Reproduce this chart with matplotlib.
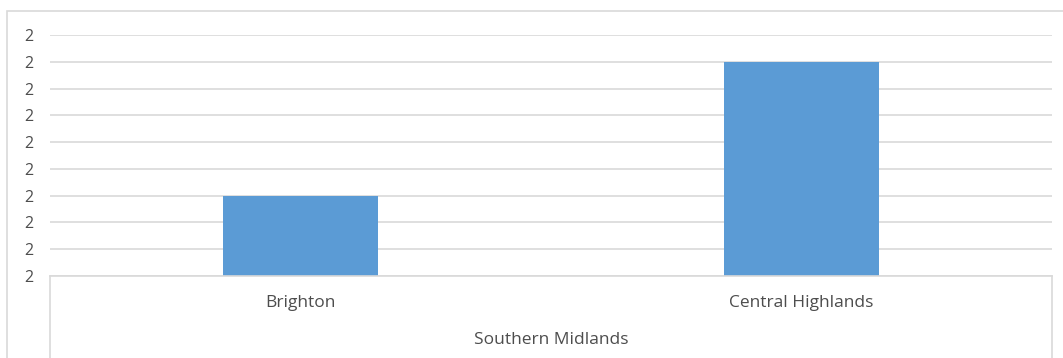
import matplotlib.pyplot as plt
from matplotlib.lines import Line2D
from matplotlib.patches import Rectangle
from matplotlib.ticker import FuncFormatter
import math

categories = ['Brighton', 'Central Highlands']
group_label = 'Southern Midlands'
values = [1.8, 2.3]
y_ticks = [1.5, 1.6, 1.7, 1.8, 1.9, 2.0, 2.1, 2.2, 2.3, 2.4]

plt.rcParams['font.family'] = ['Open Sans', 'DejaVu Sans']

W, H = 1063, 358
fig = plt.figure(figsize=(W / 100, H / 100), dpi=100)

# plot area in pixel terms
left, right, top, bottom = 50, 1052, 35, 276
ax = fig.add_axes([left / W, 1 - bottom / H, (right - left) / W, (bottom - top) / H])

grey = '#d9d9d9'
txt = '#4d4d4d'
fs = 12.5

x = list(range(len(categories)))
ax.bar(x, values, width=0.31, color='#5b9bd5', zorder=2)
ax.set_xlim(-0.5, len(categories) - 0.5)
ax.set_ylim(y_ticks[0], y_ticks[-1])
ax.set_yticks(y_ticks)
ax.yaxis.set_major_formatter(FuncFormatter(lambda v, p: str(int(math.floor(v + 0.5)))))
ax.grid(axis='y', color=grey, lw=1.2, zorder=0)
ax.tick_params(axis='y', length=0, pad=12, labelsize=11.5, labelcolor=txt)
for lbl in ax.get_yticklabels():
    lbl.set_va('center_baseline')
ax.set_xticks(x)
ax.set_xticklabels(categories)
ax.tick_params(axis='x', length=0, pad=14, labelsize=fs, labelcolor=txt)
for s in ax.spines.values():
    s.set_visible(False)

# category axis box
def fig_line(x0, y0, x1, y1):
    fig.add_artist(Line2D([x0 / W, x1 / W], [1 - y0 / H, 1 - y1 / H],
                          color=grey, lw=1.2, transform=fig.transFigure))

fig_line(left, bottom, right, bottom)
fig_line(left, bottom, left, H)
fig_line(right, bottom, right, H)

fig.text(551 / W, 1 - 340 / H, group_label, ha='center', va='center',
         fontsize=fs, color=txt)

# outer chart border
fig.add_artist(Rectangle((7 / W, -0.1), 1.2, 1 - 11 / H + 0.1, fill=False,
                         edgecolor=grey, lw=1.2, transform=fig.transFigure))

fig.savefig('out.png', dpi=100, facecolor='white')
